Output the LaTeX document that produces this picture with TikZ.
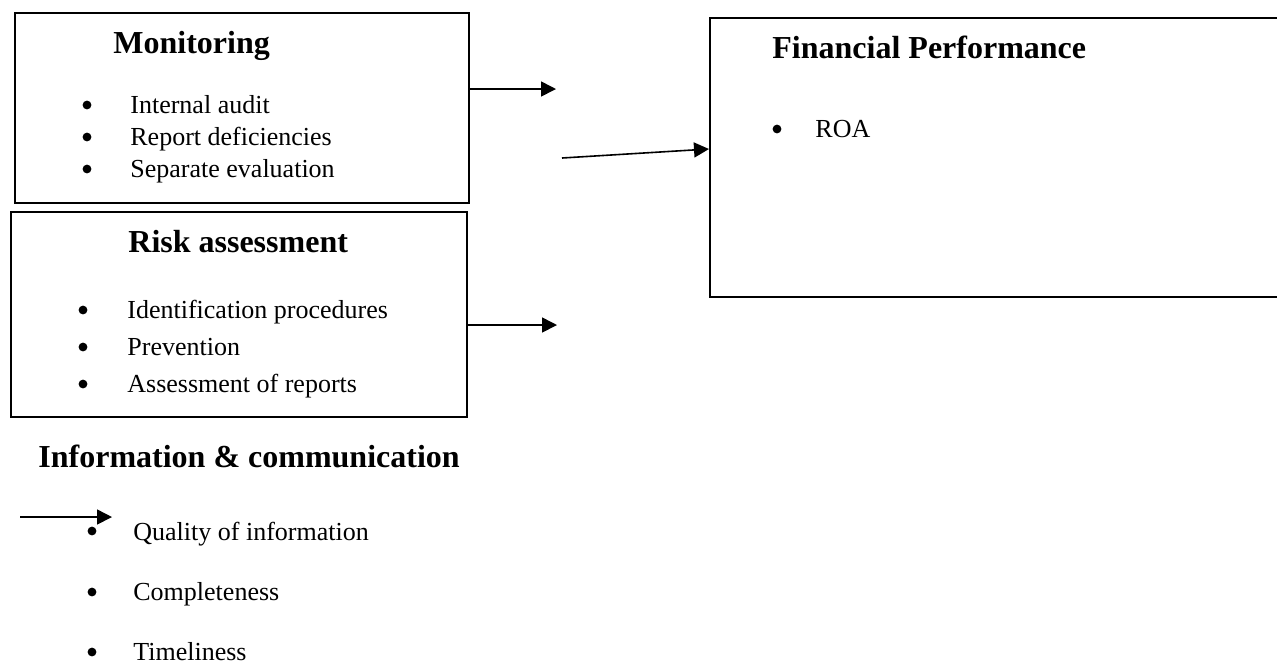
\documentclass[tikz,border=0pt]{standalone}
\usepackage{fontspec}
\setmainfont{Liberation Serif}
\usetikzlibrary{arrows.meta,positioning}

\begin{document}
\begin{tikzpicture}[x=0.5pt, y=-0.5pt,
    box/.style={
        rectangle,
        draw,
        line width=0.8pt,
        anchor=north west,
        inner sep=0pt
    },
    head/.style={anchor=base west, inner sep=0pt, font=\fontsize{16}{19}\selectfont\bfseries},
    item/.style={anchor=base west, inner sep=0pt, font=\fontsize{13}{15}\selectfont},
    dot/.style={circle, fill, inner sep=0pt, minimum size=4.4pt},
    link/.style={-{Triangle[length=7.5pt, width=7.5pt]}, line width=0.8pt}
]
    \useasboundingbox (0,0) rectangle (1277,666);

    % boxes
    \node (monitoring) [box, minimum width=227pt, minimum height=95pt] at (14, 12) {};
    \node (risk) [box, minimum width=228pt, minimum height=102.5pt] at (10, 211) {};
    \node (financial) [box, minimum width=290pt, minimum height=139.5pt] at (709, 17) {};

    % monitoring
    \node (monitoring_head) [head] at (113, 53) {Monitoring};
    \node (monitoring_dot_a) [dot] at (87, 105) {};
    \node (monitoring_dot_b) [dot] at (87, 137) {};
    \node (monitoring_dot_c) [dot] at (87, 169) {};
    \node (internal_audit) [item] at (130, 113) {Internal audit};
    \node (report_deficiencies) [item] at (130, 145) {Report deficiencies};
    \node (separate_evaluation) [item] at (130, 177) {Separate evaluation};

    % risk assessment
    \node (risk_head) [head] at (128, 252) {Risk assessment};
    \node (risk_dot_a) [dot] at (83, 310) {};
    \node (risk_dot_b) [dot] at (83, 347) {};
    \node (risk_dot_c) [dot] at (83, 384) {};
    \node (identification) [item] at (127, 318) {Identification procedures};
    \node (prevention) [item] at (127, 355) {Prevention};
    \node (assessment) [item] at (127, 392) {Assessment of reports};

    % financial performance
    \node (financial_head) [head] at (772, 58) {Financial Performance};
    \node (financial_dot) [dot] at (777, 129) {};
    \node (roa) [item] at (815, 137) {ROA};

    % information & communication
    \node (info_head) [head] at (38, 467) {Information \& communication};
    \node (info_dot_a) [dot] at (92, 531) {};
    \node (info_dot_b) [dot] at (92, 592) {};
    \node (info_dot_c) [dot] at (92, 652) {};
    \node (quality) [item] at (133, 540) {Quality of information};
    \node (completeness) [item] at (133, 600) {Completeness};
    \node (timeliness) [item] at (133, 660) {Timeliness};

    % free arrow ends
    \coordinate (monitoring_end) at (556, 89);
    \coordinate (middle_start) at (562, 158);
    \coordinate (middle_end) at (707, 149);
    \coordinate (risk_end) at (557, 325);
    \coordinate (info_start) at (20, 517);
    \coordinate (info_end) at (112, 517);

    \draw[link] (monitoring.east |- monitoring_end) to (monitoring_end);
    \draw[link] (middle_start) to (financial.west |- middle_end);
    \draw[link] (risk.east |- risk_end) to (risk_end);
    \draw[link] (info_start) to (info_end);
\end{tikzpicture}
\end{document}
